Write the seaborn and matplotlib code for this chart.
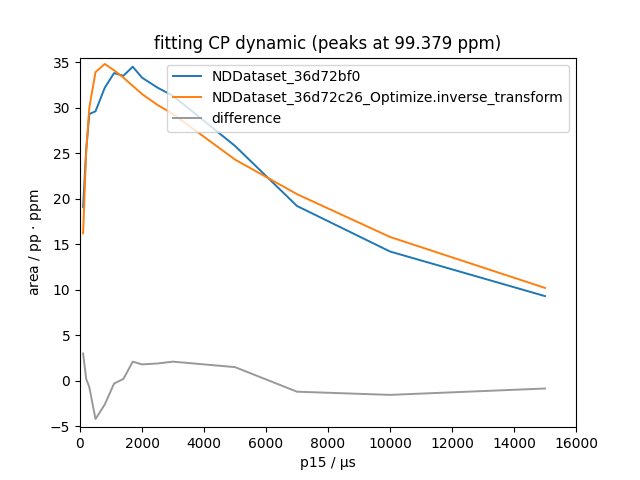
import matplotlib
matplotlib.use('Agg')
import matplotlib.pyplot as plt
import seaborn as sns

# p15 delays (µs) and integrated areas
p15 = [100, 200, 300, 500, 800, 1100, 1400, 1700, 2000, 2500, 3000, 5000, 7000, 10000, 15000]
measured = [19.1, 25.4, 29.3, 29.6, 32.2, 33.8, 33.5, 34.5, 33.3, 32.2, 31.3, 25.8, 19.2, 14.2, 9.3]
fitted = [16.2, 25.2, 30.0, 33.9, 34.8, 34.1, 33.3, 32.4, 31.5, 30.3, 29.3, 24.3, 20.5, 15.8, 10.2]
difference = [3.0, 0.2, -0.7, -4.2, -2.6, -0.3, 0.2, 2.1, 1.8, 1.9, 2.1, 1.5, -1.2, -1.55, -0.85]

labels = ['NDDataset_36d72bf0',
          'NDDataset_36d72c26_Optimize.inverse_transform',
          'difference']

fig, ax = plt.subplots(figsize=(6.4, 4.8), dpi=100)

sns.lineplot(x=p15, y=measured, ax=ax, color='#1f77b4', label=labels[0], linewidth=1.4)
sns.lineplot(x=p15, y=fitted, ax=ax, color='#ff7f0e', label=labels[1], linewidth=1.4)
sns.lineplot(x=p15, y=difference, ax=ax, color='#999999', label=labels[2], linewidth=1.4)

ax.set_xlim(0, 16000)
ax.set_ylim(-5.1, 35.5)
ax.set_title('fitting CP dynamic (peaks at 99.379 ppm)')
ax.set_xlabel('p15 / µs')
ax.set_ylabel(r'area / pp $\cdot$ ppm')
ax.legend(loc='upper right')

fig.savefig('out.png', dpi=100)
